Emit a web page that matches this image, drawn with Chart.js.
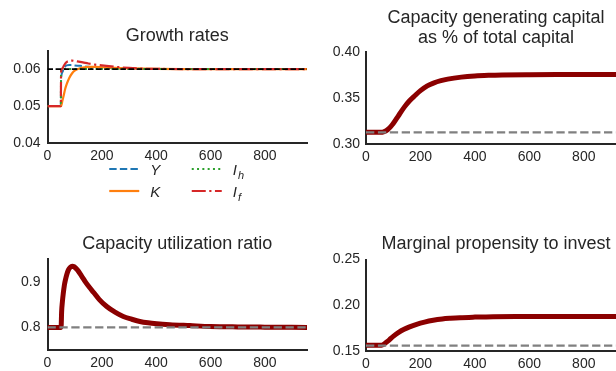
<!DOCTYPE html>
<html>
<head>
<meta charset="utf-8">
<script src="https://cdn.jsdelivr.net/npm/chart.js@4.4.1/dist/chart.umd.min.js"></script>
<style>
  html, body { margin: 0; padding: 0; width: 616px; height: 371px; overflow: hidden; background: #fff; }
  canvas { position: absolute; }
</style>
</head>
<body>
<canvas id="cGrowth" width="310" height="210" style="left:0;top:0"></canvas>
<canvas id="cCap" width="366" height="170" style="left:310px;top:0"></canvas>
<canvas id="cUtil" width="310" height="161" style="left:0;top:210px"></canvas>
<canvas id="cMpi" width="366" height="161" style="left:310px;top:210px"></canvas>
<script>
// ---- shared x axis (periods) ----
const xMax = 955;
const xTicks = [0, 200, 400, 600, 800];

// ---- Growth rates ----
const tGrowth = [0, 49, 50, 55, 60, 65, 70, 80, 90, 100, 115, 130, 150, 175, 200, 250, 300, 350, 400, 500, 600, 700, 800, 955];
const gY  = [0.05, 0.05, 0.057, 0.0592, 0.0602, 0.0607, 0.0610, 0.0611, 0.0611, 0.0610, 0.0609, 0.0608, 0.0606, 0.0605, 0.0604, 0.0602, 0.0601, 0.06005, 0.06, 0.06, 0.06, 0.06, 0.06, 0.06];
const gK  = [0.05, 0.05, 0.05, 0.0515, 0.053, 0.0546, 0.0558, 0.0576, 0.0588, 0.0596, 0.0601, 0.0604, 0.0606, 0.0606, 0.0605, 0.0603, 0.0602, 0.0601, 0.06005, 0.06, 0.06, 0.06, 0.06, 0.06];
const gIh = [0.05, 0.05, 0.06, 0.06, 0.06, 0.06, 0.06, 0.06, 0.06, 0.06, 0.06, 0.06, 0.06, 0.06, 0.06, 0.06, 0.06, 0.06, 0.06, 0.06, 0.06, 0.06, 0.06, 0.06];
const gIf = [0.05, 0.05, 0.0592, 0.0602, 0.0609, 0.0615, 0.0619, 0.0622, 0.0623, 0.0622, 0.0620, 0.0618, 0.0615, 0.0612, 0.0610, 0.0606, 0.0603, 0.0601, 0.06005, 0.06, 0.06, 0.06, 0.06, 0.06];
const gTarget = 0.06;
const growthTicks = [0.04, 0.05, 0.06];
const legendKeys = ['Y', 'K', 'Ih', 'If'];
const legendMain = ['Y', 'K', 'I', 'I'];
const legendSub  = ['', '', 'h', 'f'];

// ---- Capacity generating capital share ----
const tCap = [0, 50, 60, 70, 80, 90, 100, 120, 140, 160, 180, 200, 225, 250, 275, 300, 350, 400, 450, 500, 600, 700, 800, 955];
const capShare = [0.3127, 0.3127, 0.3128, 0.3138, 0.3158, 0.3186, 0.3222, 0.3310, 0.3398, 0.3470, 0.3527, 0.3580, 0.3632, 0.3665, 0.3688, 0.3705, 0.3727, 0.3740, 0.3747, 0.3751, 0.3754, 0.3755, 0.3755, 0.3755];
const capBase = 0.3127;
const capTicks = [0.30, 0.35, 0.40];

// ---- Capacity utilization ----
const tUtil = [0, 50, 52, 55, 58, 62, 66, 71, 77, 84, 91, 98, 110, 125, 140, 155, 170, 190, 218, 250, 279, 310, 340, 370, 402, 450, 524, 600, 700, 800, 955];
const utilRatio = [0.8, 0.8, 0.835, 0.858, 0.875, 0.893, 0.905, 0.917, 0.927, 0.933, 0.935, 0.934, 0.927, 0.914, 0.900, 0.888, 0.877, 0.862, 0.846, 0.833, 0.824, 0.818, 0.813, 0.810, 0.808, 0.806, 0.804, 0.802, 0.801, 0.8005, 0.8];
const utilBase = 0.8;
const utilTicks = [0.8, 0.9];

// ---- Marginal propensity to invest ----
const tMpi = [0, 50, 60, 70, 80, 90, 100, 120, 140, 160, 186, 215, 247, 280, 310, 345, 400, 467, 550, 700, 955];
const mpi = [0.1562, 0.1562, 0.1566, 0.1585, 0.1608, 0.1634, 0.1660, 0.1703, 0.1737, 0.1764, 0.1792, 0.1816, 0.1836, 0.1850, 0.1858, 0.1865, 0.1871, 0.1876, 0.1877, 0.1877, 0.1877];
const mpiBase = 0.1559;
const mpiTicks = [0.15, 0.20, 0.25];

const ink = '#262626';
const fontFam = "'Liberation Sans', Arial, sans-serif";
Chart.defaults.font.family = fontFam;
Chart.defaults.color = ink;

function xy(t, v) { return t.map((x, i) => ({ x: x, y: v[i] })); }
function flat(v) { return [{ x: 0, y: v }, { x: xMax, y: v }]; }

// legend with sub-scripted labels, drawn under the growth panel
const mathLegend = {
  id: 'mathLegend',
  afterDraw(chart) {
    const { ctx, chartArea: ca } = chart;
    const cx = (ca.left + ca.right) / 2;
    ctx.save();
    legendKeys.forEach((key, i) => {
      const ds = chart.data.datasets.find(d => d.label === key);
      const col = Math.floor(i / 2), row = i % 2;
      const x0 = cx - 68 + col * 82.5;
      const y = ca.bottom + 26 + row * 22;
      ctx.strokeStyle = ds.borderColor;
      ctx.lineWidth = ds.borderWidth;
      ctx.setLineDash(ds.borderDash || []);
      ctx.beginPath(); ctx.moveTo(x0, y); ctx.lineTo(x0 + 30, y); ctx.stroke();
      ctx.fillStyle = ink;
      ctx.textBaseline = 'alphabetic';
      ctx.font = 'italic 15px ' + fontFam;
      ctx.fillText(legendMain[i], x0 + 41, y + 5.5);
      if (legendSub[i]) {
        const w = ctx.measureText(legendMain[i]).width;
        ctx.font = 'italic 11px ' + fontFam;
        ctx.fillText(legendSub[i], x0 + 41 + w + 1, y + 9.5);
      }
    });
    ctx.restore();
  }
};

function makePanel(id, p) {
  return new Chart(document.getElementById(id), {
    type: 'line',
    data: { datasets: p.datasets },
    options: {
      responsive: false,
      animation: false,
      events: [],
      layout: { padding: p.padding },
      elements: { point: { radius: 0 }, line: { cubicInterpolationMode: 'monotone', borderCapStyle: 'butt', fill: false } },
      plugins: {
        legend: { display: false },
        tooltip: { enabled: false },
        title: { display: true, fullSize: false, text: p.title, color: ink, font: { size: 18, weight: 'normal', lineHeight: p.titleLH || 1.2 }, padding: p.titlePad }
      },
      scales: {
        x: {
          type: 'linear', min: 0, max: xMax,
          grid: { display: false, drawTicks: false },
          border: { display: true, color: ink, width: 2 },
          ticks: { color: ink, font: { size: 14 }, padding: 5, maxRotation: 0 },
          afterBuildTicks: s => { s.ticks = xTicks.map(v => ({ value: v })); },
          afterFit: s => { s.height = 20; }
        },
        y: {
          type: 'linear', min: p.yMin, max: p.yMax,
          grid: { display: false, drawTicks: false },
          border: { display: true, color: ink, width: 2 },
          ticks: { color: ink, font: { size: 14 }, padding: p.yPad, callback: v => v.toFixed(p.dec) },
          afterBuildTicks: s => { s.ticks = p.yTicks.map(v => ({ value: v })); },
          afterFit: s => { s.width = p.yWidth; }
        }
      }
    },
    plugins: p.plugins || []
  });
}

function thickPanel(id, title, t, v, base, ticks, yMin, yMax, dec, geo) {
  return makePanel(id, Object.assign({
    title: title, yTicks: ticks, yMin: yMin, yMax: yMax, dec: dec,
    datasets: [
      { label: 'base', data: flat(base), borderColor: '#808080', borderWidth: 2.2, borderDash: [8.3, 3.6] },
      { label: 'series', data: xy(t, v), borderColor: '#8b0000', borderWidth: 5 }
    ]
  }, geo));
}

makePanel('cGrowth', {
  title: 'Growth rates', titlePad: { top: 25, bottom: 4 },
  padding: { left: 0, right: 3, top: 0, bottom: 47 }, yWidth: 47.5, yPad: 7,
  yTicks: growthTicks, yMin: 0.04, yMax: 0.065, dec: 2,
  datasets: [
    { label: 'target', data: flat(gTarget), borderColor: '#000000', borderWidth: 1.6, borderDash: [5.5, 2.6] },
    { label: 'If', data: xy(tGrowth, gIf), borderColor: '#d62728', borderWidth: 2.2, borderDash: [14, 3.5, 2.2, 3.5] },
    { label: 'Ih', data: xy(tGrowth, gIh), borderColor: '#2ca02c', borderWidth: 2, borderDash: [2, 3.3] },
    { label: 'K', data: xy(tGrowth, gK), borderColor: '#ff7f0e', borderWidth: 2.2 },
    { label: 'Y', data: xy(tGrowth, gY), borderColor: '#1f77b4', borderWidth: 2, borderDash: [7.4, 3.2] }
  ],
  plugins: [mathLegend]
});

thickPanel('cCap', ['Capacity generating capital', 'as % of total capital'], tCap, capShare, capBase, capTicks, 0.30, 0.40, 2,
  { titlePad: { top: 8, bottom: 4.4 }, titleLH: 1.1, padding: { left: 0, right: 50, top: 0, bottom: 6 }, yWidth: 56, yPad: 6 });

thickPanel('cUtil', 'Capacity utilization ratio', tUtil, utilRatio, utilBase, utilTicks, 0.75, 0.952, 1,
  { titlePad: { top: 23, bottom: 4 }, padding: { left: 0, right: 3, top: 0, bottom: 1 }, yWidth: 47.5, yPad: 7 });

thickPanel('cMpi', 'Marginal propensity to invest', tMpi, mpi, mpiBase, mpiTicks, 0.15, 0.25, 2,
  { titlePad: { top: 23, bottom: 5 }, padding: { left: 0, right: 50, top: 0, bottom: 0 }, yWidth: 56, yPad: 6 });
</script>
</body>
</html>
